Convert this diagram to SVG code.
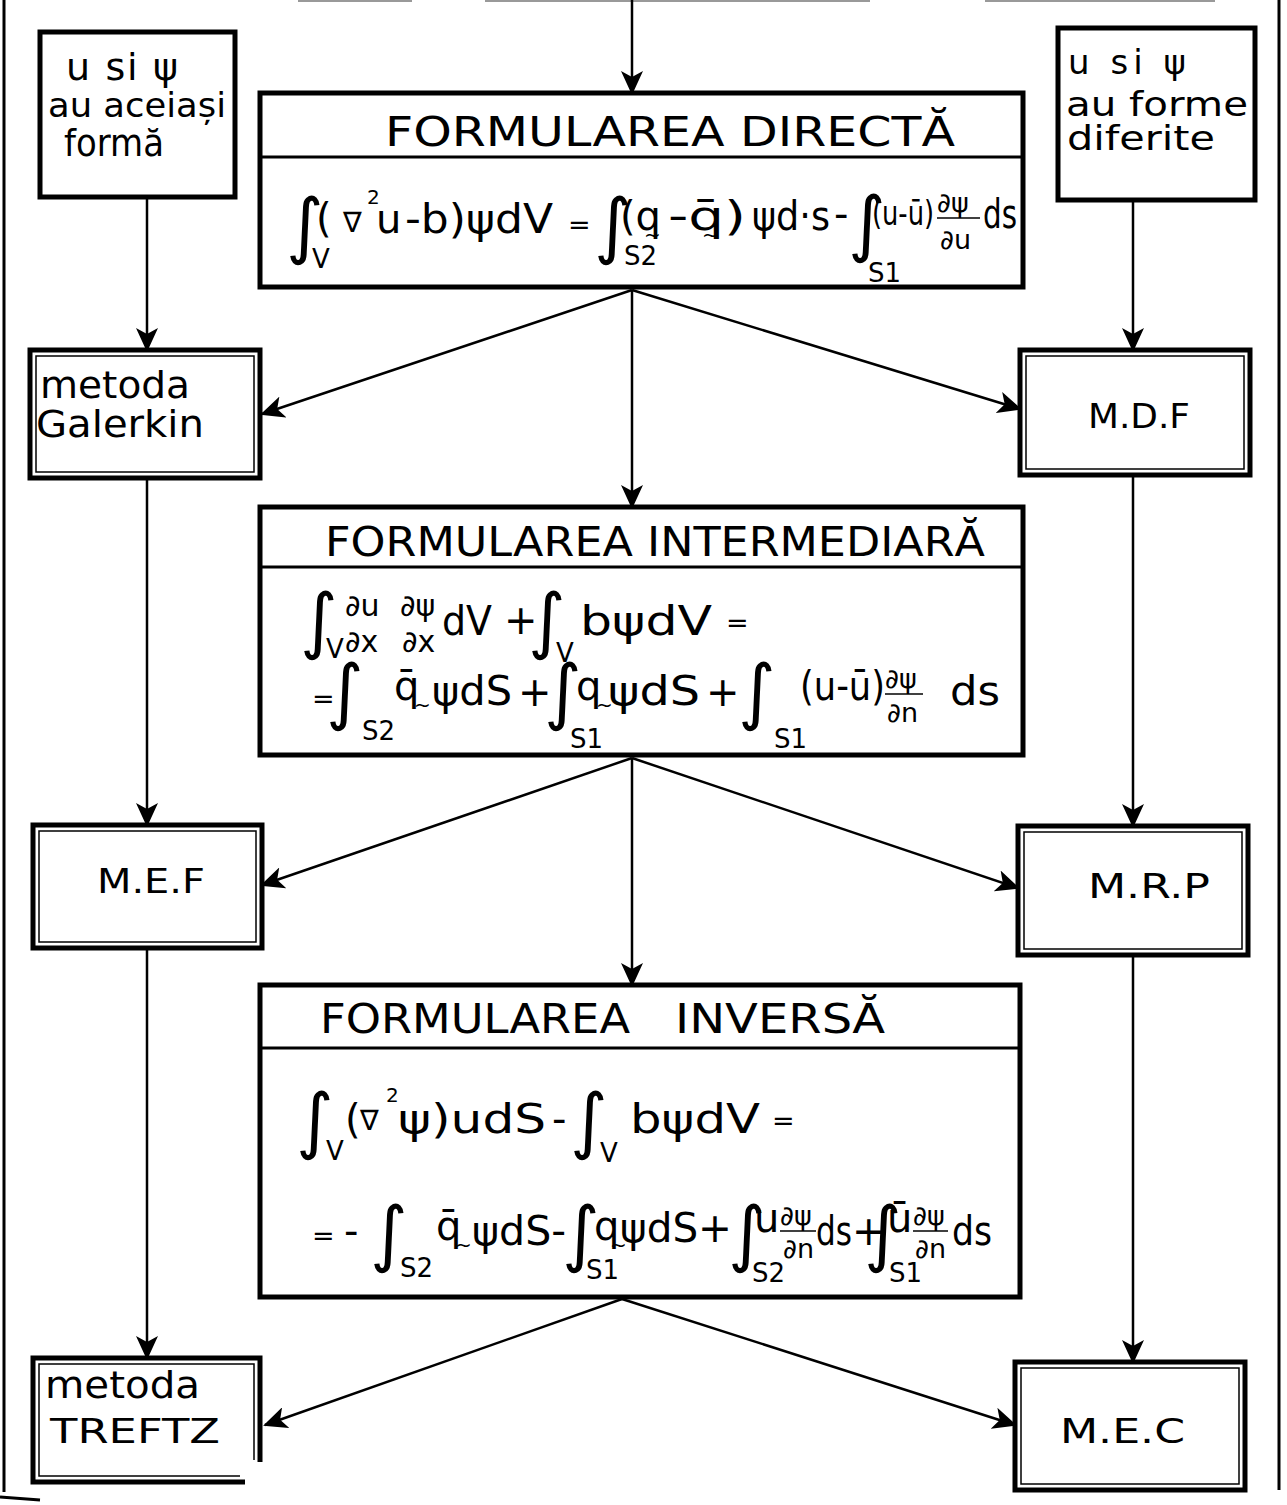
<svg xmlns="http://www.w3.org/2000/svg" width="1287" height="1505" viewBox="0 0 1287 1505">
<defs>
  <marker id="ah" markerUnits="userSpaceOnUse" markerWidth="24" markerHeight="22" refX="22" refY="11" orient="auto">
    <path d="M0,0 L24,11 L0,22 L6,11 Z" fill="#000"/>
  </marker>
  <style>
    .box{fill:#fff;stroke:#000;stroke-width:5}
    .inner{fill:none;stroke:#000;stroke-width:1.5}
    .div{stroke:#000;stroke-width:3}
    .frame{stroke:#000;stroke-width:3;fill:none}
    .con{stroke:#000;stroke-width:2.5;fill:none;marker-end:url(#ah)}
    .bar{stroke:#000;stroke-width:1.5}
    text{font-family:"DejaVu Sans","Liberation Sans",sans-serif;fill:#000}
    .lbl{font-size:38px}
    .lbs{font-size:34px}
    .ttl{font-size:40px}
    .m{font-size:40px}
    .ms{font-size:34px}
    .s{font-size:26px}
    .i{font-size:72px}
    .fr{font-size:27px}
    .fb{font-size:30px}
    .tl{font-size:20px}
    .nb{font-size:28px}
    .sup{font-size:20px}
  </style>
</defs>
<rect width="1287" height="1505" fill="#fff"/>

<!-- page frame -->
<g id="frame">
  <line class="frame" x1="4" y1="0" x2="4" y2="1492"/>
  <line class="frame" x1="1279" y1="0" x2="1279" y2="1490"/>
  <line class="frame" x1="0" y1="1497" x2="40" y2="1500"/>
  <line stroke="#999" stroke-width="2" x1="298" y1="1" x2="412" y2="1"/>
  <line stroke="#999" stroke-width="2" x1="485" y1="1" x2="870" y2="1"/>
  <line stroke="#999" stroke-width="2" x1="985" y1="1" x2="1215" y2="1"/>
</g>

<!-- connectors -->
<g id="connectors">
  <line class="con" x1="632" y1="0" x2="632" y2="93"/>
  <line class="con" x1="147" y1="197" x2="147" y2="350"/>
  <line class="con" x1="147" y1="478" x2="147" y2="825"/>
  <line class="con" x1="147" y1="948" x2="147" y2="1358"/>
  <line class="con" x1="1133" y1="200" x2="1133" y2="350"/>
  <line class="con" x1="1133" y1="475" x2="1133" y2="826"/>
  <line class="con" x1="1133" y1="955" x2="1133" y2="1362"/>
  <line class="con" x1="632" y1="290" x2="262" y2="414"/>
  <line class="con" x1="632" y1="290" x2="632" y2="507"/>
  <line class="con" x1="632" y1="290" x2="1020" y2="409"/>
  <line class="con" x1="632" y1="758" x2="262" y2="885"/>
  <line class="con" x1="632" y1="758" x2="632" y2="985"/>
  <line class="con" x1="632" y1="758" x2="1018" y2="888"/>
  <line class="con" x1="622" y1="1299" x2="265" y2="1425"/>
  <line class="con" x1="622" y1="1299" x2="1015" y2="1425"/>
</g>

<!-- condition boxes -->
<g id="same-form">
  <rect class="box" x="40" y="32" width="195" height="165"/>
  <text class="lbl" x="66" y="80" textLength="112" lengthAdjust="spacing">u si ψ</text>
  <text class="lbs" x="48" y="117" textLength="178" lengthAdjust="spacingAndGlyphs">au aceiași</text>
  <text class="lbl" x="64" y="156" textLength="100" lengthAdjust="spacingAndGlyphs">formă</text>
</g>
<g id="different-form">
  <rect class="box" x="1058" y="28" width="197" height="172"/>
  <text class="lbs" x="1068" y="74" textLength="118" lengthAdjust="spacing">u si ψ</text>
  <text class="lbs" x="1066" y="116" textLength="182" lengthAdjust="spacingAndGlyphs">au forme</text>
  <text class="lbs" x="1067" y="150" textLength="148" lengthAdjust="spacingAndGlyphs">diferite</text>
</g>

<!-- method boxes -->
<g id="galerkin">
  <rect class="box" x="30" y="350" width="230" height="128"/>
  <rect class="inner" x="36" y="356" width="218" height="116"/>
  <text class="lbl" x="40" y="398" textLength="150" lengthAdjust="spacingAndGlyphs">metoda</text>
  <text class="lbl" x="36" y="437" textLength="168" lengthAdjust="spacingAndGlyphs">Galerkin</text>
</g>
<g id="mdf">
  <rect class="box" x="1020" y="350" width="230" height="125"/>
  <rect class="inner" x="1026" y="356" width="218" height="113"/>
  <text class="lbs" x="1088" y="428" textLength="102" lengthAdjust="spacingAndGlyphs">M.D.F</text>
</g>
<g id="mef">
  <rect class="box" x="33" y="825" width="229" height="123"/>
  <rect class="inner" x="39" y="831" width="217" height="111"/>
  <text class="lbs" x="97" y="893" textLength="108" lengthAdjust="spacingAndGlyphs">M.E.F</text>
</g>
<g id="mrp">
  <rect class="box" x="1018" y="826" width="230" height="129"/>
  <rect class="inner" x="1024" y="832" width="218" height="117"/>
  <text class="lbs" x="1088" y="898" textLength="122" lengthAdjust="spacingAndGlyphs">M.R.P</text>
</g>
<g id="trefftz">
  <path class="box" d="M245,1482 H33 V1358 H260 V1462"/>
  <path class="inner" d="M240,1476 H39 V1364 H254 V1460"/>
  <text class="lbl" x="45" y="1398" textLength="155" lengthAdjust="spacingAndGlyphs">metoda</text>
  <text class="lbs" x="50" y="1443" textLength="170" lengthAdjust="spacingAndGlyphs">TREFTZ</text>
</g>
<g id="mec">
  <rect class="box" x="1015" y="1362" width="230" height="128"/>
  <rect class="inner" x="1021" y="1368" width="218" height="116"/>
  <text class="lbs" x="1060" y="1443" textLength="125" lengthAdjust="spacingAndGlyphs">M.E.C</text>
</g>

<!-- direct formulation -->
<g id="direct">
  <rect class="box" x="260" y="93" width="763" height="194"/>
  <line class="div" x1="260" y1="157" x2="1023" y2="157"/>
  <text class="ttl" x="385" y="146" textLength="570" lengthAdjust="spacingAndGlyphs">FORMULAREA DIRECTĂ</text>
  <text class="i" x="286" y="250">∫<tspan class="s" x="312" y="268">V</tspan><tspan class="m" x="316" y="232">(</tspan><tspan class="nb" x="343" y="232">∇</tspan><tspan class="sup" x="367" y="204">2</tspan><tspan class="m" x="376" y="233">u</tspan></text>
  <text class="m" x="405" y="233" textLength="148" lengthAdjust="spacingAndGlyphs">-b)ψdV</text>
  <text class="fr" x="568" y="234">=</text>
  <text class="i" x="594" y="250">∫<tspan class="s" x="624" y="265">S2</tspan><tspan class="m" x="620" y="230">(q</tspan><tspan class="tl" x="644" y="242">~</tspan></text>
  <text class="m" x="668" y="230" textLength="78" lengthAdjust="spacingAndGlyphs">-q̄)</text>
  <text class="tl" x="702" y="242">~</text>
  <text class="m" x="752" y="230" textLength="78" lengthAdjust="spacingAndGlyphs">ψd·s</text>
  <text class="m" x="834" y="228">-<tspan class="i" x="848" y="248">∫</tspan><tspan class="s" x="868" y="282">S1</tspan></text>
  <text class="ms" x="872" y="225" textLength="62" lengthAdjust="spacingAndGlyphs">(u-ū)</text>
  <text class="fr" x="937" y="212">∂ψ<tspan x="940" y="249">∂u</tspan></text>
  <line class="bar" x1="937" y1="218" x2="980" y2="218"/>
  <text class="m" x="983" y="228" textLength="34" lengthAdjust="spacingAndGlyphs">ds</text>
</g>

<!-- intermediate formulation -->
<g id="intermediate">
  <rect class="box" x="260" y="507" width="763" height="248"/>
  <line class="div" x1="260" y1="567" x2="1023" y2="567"/>
  <text class="ttl" x="325" y="556" textLength="660" lengthAdjust="spacingAndGlyphs">FORMULAREA INTERMEDIARĂ</text>
  <text class="i" x="300" y="645">∫<tspan class="s" x="326" y="658">V</tspan><tspan class="fb" x="345" y="616">∂u</tspan><tspan class="fb" x="345" y="652">∂x</tspan><tspan class="fb" x="400" y="616">∂ψ</tspan><tspan class="fb" x="402" y="652">∂x</tspan></text>
  <text class="m" x="442" y="635" textLength="50" lengthAdjust="spacingAndGlyphs">dV</text>
  <text class="m" x="504" y="634">+<tspan class="i" x="528" y="645">∫</tspan><tspan class="s" x="556" y="662">V</tspan></text>
  <text class="m" x="580" y="635" textLength="132" lengthAdjust="spacingAndGlyphs">bψdV</text>
  <text class="fr" x="726" y="632">=</text>

  <text class="fr" x="312" y="708">=<tspan class="i" x="326" y="716">∫</tspan><tspan class="s" x="362" y="740">S2</tspan><tspan class="m" x="394" y="700">q̄</tspan><tspan class="tl" x="414" y="712">~</tspan></text>
  <text class="m" x="432" y="705" textLength="80" lengthAdjust="spacingAndGlyphs">ψdS</text>
  <text class="m" x="518" y="706">+<tspan class="i" x="544" y="716">∫</tspan><tspan class="s" x="570" y="748">S1</tspan><tspan x="576" y="700">q</tspan><tspan class="tl" x="596" y="712">~</tspan></text>
  <text class="m" x="608" y="705" textLength="92" lengthAdjust="spacingAndGlyphs">ψdS</text>
  <text class="m" x="706" y="706">+<tspan class="i" x="738" y="716">∫</tspan><tspan class="s" x="774" y="748">S1</tspan></text>
  <text class="m" x="800" y="700" textLength="85" lengthAdjust="spacingAndGlyphs">(u-ū)</text>
  <text class="fr" x="885" y="688">∂ψ<tspan x="887" y="722">∂n</tspan></text>
  <line class="bar" x1="885" y1="694" x2="923" y2="694"/>
  <text class="m" x="950" y="705" textLength="50" lengthAdjust="spacingAndGlyphs">ds</text>
</g>

<!-- inverse formulation -->
<g id="inverse">
  <rect class="box" x="260" y="985" width="760" height="312"/>
  <line class="div" x1="260" y1="1048" x2="1020" y2="1048"/>
  <text class="ttl" x="320" y="1033" textLength="310" lengthAdjust="spacingAndGlyphs">FORMULAREA</text>
  <text class="ttl" x="675" y="1033" textLength="210" lengthAdjust="spacingAndGlyphs">INVERSĂ</text>

  <text class="i" x="296" y="1145">∫<tspan class="s" x="326" y="1160">V</tspan><tspan class="m" x="345" y="1133">(</tspan><tspan class="nb" x="360" y="1130">∇</tspan><tspan class="sup" x="386" y="1102">2</tspan></text>
  <text class="m" x="398" y="1133" textLength="148" lengthAdjust="spacingAndGlyphs">ψ)udS</text>
  <text class="m" x="552" y="1133">-<tspan class="i" x="570" y="1145">∫</tspan><tspan class="s" x="600" y="1162">V</tspan></text>
  <text class="m" x="630" y="1133" textLength="130" lengthAdjust="spacingAndGlyphs">bψdV</text>
  <text class="fr" x="772" y="1130">=</text>

  <text class="fr" x="312" y="1245">=<tspan class="m" x="344" y="1245">-</tspan><tspan class="i" x="370" y="1258">∫</tspan><tspan class="s" x="400" y="1277">S2</tspan><tspan class="m" x="436" y="1240">q̄</tspan><tspan class="tl" x="455" y="1252">~</tspan></text>
  <text class="m" x="472" y="1245" textLength="94" lengthAdjust="spacingAndGlyphs">ψdS-</text>
  <text class="i" x="562" y="1258">∫<tspan class="s" x="586" y="1279">S1</tspan><tspan class="m" x="594" y="1240">q</tspan><tspan class="tl" x="610" y="1252">~</tspan></text>
  <text class="m" x="620" y="1242" textLength="112" lengthAdjust="spacingAndGlyphs">ψdS+</text>
  <text class="i" x="728" y="1258">∫<tspan class="s" x="752" y="1282">S2</tspan><tspan class="m" x="754" y="1232">u</tspan></text>
  <text class="fr" x="780" y="1225">∂ψ<tspan x="783" y="1258">∂n</tspan></text>
  <line class="bar" x1="780" y1="1231" x2="816" y2="1231"/>
  <text class="m" x="816" y="1245" textLength="36" lengthAdjust="spacingAndGlyphs">ds</text>
  <text class="m" x="852" y="1245">+<tspan class="i" x="864" y="1258">∫</tspan><tspan class="s" x="889" y="1282">S1</tspan><tspan x="887" y="1232">ū</tspan></text>
  <text class="fr" x="913" y="1225">∂ψ<tspan x="915" y="1258">∂n</tspan></text>
  <line class="bar" x1="913" y1="1231" x2="948" y2="1231"/>
  <text class="m" x="952" y="1245" textLength="40" lengthAdjust="spacingAndGlyphs">ds</text>
</g>
</svg>
